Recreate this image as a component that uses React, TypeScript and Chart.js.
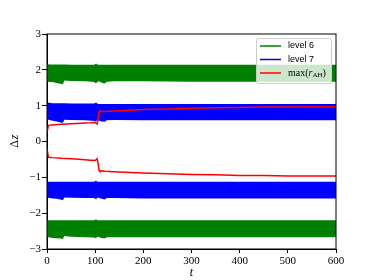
import React, { useEffect, useRef } from "react";
import { Chart, registerables } from "chart.js";

Chart.register(...registerables);

// Envelope time grid for oscillating bands
const tEnv = [0, 5, 12, 20, 28, 33, 36, 50, 80, 98, 102, 104, 108, 114, 120, 124, 140, 200, 300, 400, 500, 600];
const level6UpperTop = [2.16, 2.15, 2.15, 2.15, 2.15, 2.15, 2.15, 2.14, 2.14, 2.14, 2.18, 2.15, 2.14, 2.14, 2.14, 2.14, 2.14, 2.14, 2.14, 2.14, 2.14, 2.14];
const level6UpperBot = [1.68, 1.66, 1.66, 1.63, 1.61, 1.6, 1.7, 1.69, 1.68, 1.66, 1.62, 1.66, 1.68, 1.64, 1.62, 1.67, 1.68, 1.68, 1.67, 1.67, 1.67, 1.67];
const level7UpperTop = [1.09, 1.08, 1.07, 1.07, 1.07, 1.07, 1.07, 1.06, 1.06, 1.06, 1.09, 1.06, 1.05, 1.05, 1.05, 1.05, 1.05, 1.05, 1.05, 1.05, 1.05, 1.05];
const level7UpperBot = [0.62, 0.6, 0.58, 0.56, 0.53, 0.52, 0.61, 0.6, 0.59, 0.57, 0.55, 0.6, 0.58, 0.56, 0.55, 0.59, 0.6, 0.59, 0.59, 0.59, 0.59, 0.59];
const level7LowerTop = [-1.12, -1.12, -1.12, -1.12, -1.12, -1.12, -1.12, -1.12, -1.12, -1.12, -1.09, -1.12, -1.12, -1.12, -1.12, -1.12, -1.12, -1.12, -1.12, -1.12, -1.12, -1.12];
const level7LowerBot = [-1.56, -1.58, -1.59, -1.6, -1.62, -1.64, -1.56, -1.57, -1.58, -1.58, -1.62, -1.57, -1.58, -1.6, -1.62, -1.58, -1.58, -1.59, -1.59, -1.59, -1.59, -1.59];
const level6LowerTop = [-2.2, -2.2, -2.2, -2.2, -2.2, -2.2, -2.2, -2.2, -2.2, -2.2, -2.17, -2.2, -2.2, -2.2, -2.2, -2.2, -2.2, -2.2, -2.2, -2.2, -2.2, -2.2];
const level6LowerBot = [-2.66, -2.68, -2.69, -2.7, -2.71, -2.72, -2.64, -2.66, -2.67, -2.68, -2.71, -2.66, -2.67, -2.69, -2.71, -2.67, -2.67, -2.67, -2.67, -2.67, -2.67, -2.67];

// max(r_AH)
const tRed = [0, 3, 10, 30, 60, 90, 100, 104, 106, 108, 110, 114, 120, 150, 200, 250, 300, 350, 400, 450, 500, 600];
const rUpper = [0.25, 0.45, 0.46, 0.48, 0.5, 0.52, 0.53, 0.49, 0.6, 0.82, 0.86, 0.83, 0.84, 0.86, 0.89, 0.91, 0.93, 0.94, 0.95, 0.96, 0.96, 0.97];
const rLower = [-0.2, -0.44, -0.45, -0.47, -0.49, -0.52, -0.53, -0.48, -0.6, -0.8, -0.83, -0.82, -0.83, -0.85, -0.88, -0.9, -0.92, -0.93, -0.95, -0.95, -0.96, -0.96];

const xTicks = [0, 100, 200, 300, 400, 500, 600];
const yTicks = [-3, -2, -1, 0, 1, 2, 3];

const GREEN = "#008000";
const BLUE = "#0000ff";
const RED = "#ff0000";

const pts = (xs: number[], ys: number[]) => xs.map((x, i) => ({ x, y: ys[i] }));

const edge = (data: any, fill: any, color: string) => ({
  data,
  borderWidth: 0,
  borderColor: "rgba(0,0,0,0)",
  backgroundColor: color,
  pointRadius: 0,
  fill,
  tension: 0,
});

const framePlugin = {
  id: "frame",
  afterDraw(chart: any) {
    const { ctx, chartArea: a } = chart;
    ctx.save();
    ctx.strokeStyle = "#000";
    ctx.lineWidth = 1;
    ctx.strokeRect(a.left, a.top, a.right - a.left, a.bottom - a.top);

    // axis titles
    ctx.fillStyle = "#000";
    ctx.textAlign = "center";
    ctx.textBaseline = "middle";
    ctx.font = "italic 12px 'Liberation Serif'";
    ctx.fillText("t", (a.left + a.right) / 2, 273);

    ctx.save();
    ctx.translate(15, (a.top + a.bottom) / 2);
    ctx.rotate(-Math.PI / 2);
    ctx.font = "12px 'Liberation Serif'";
    const w1 = ctx.measureText("Δ").width;
    ctx.font = "italic 12px 'Liberation Serif'";
    const w2 = ctx.measureText("z").width;
    ctx.textAlign = "left";
    ctx.font = "12px 'Liberation Serif'";
    ctx.fillText("Δ", -(w1 + w2) / 2, 0);
    ctx.font = "italic 12px 'Liberation Serif'";
    ctx.fillText("z", -(w1 + w2) / 2 + w1 + 0.5, 0);
    ctx.restore();

    // legend
    const bx = 256.5, by = 38.5, bw = 75, bh = 45;
    ctx.beginPath();
    ctx.roundRect(bx, by, bw, bh, 2);
    ctx.fillStyle = "rgba(255,255,255,0.8)";
    ctx.fill();
    ctx.strokeStyle = "#cccccc";
    ctx.lineWidth = 1;
    ctx.stroke();

    const rows = [
      { y: 46, c: GREEN, label: "level 6" },
      { y: 59.5, c: BLUE, label: "level 7" },
      { y: 73, c: RED, label: "" },
    ];
    rows.forEach((r) => {
      ctx.beginPath();
      ctx.strokeStyle = r.c;
      ctx.lineWidth = 1.5;
      ctx.moveTo(260, r.y);
      ctx.lineTo(281, r.y);
      ctx.stroke();
      ctx.fillStyle = "#000";
      ctx.textAlign = "left";
      ctx.textBaseline = "middle";
      if (r.label) {
        ctx.font = "9px 'Liberation Sans'";
        ctx.fillText(r.label, 288, r.y);
      } else {
        let x = 288;
        ctx.font = "10px 'Liberation Serif'";
        ctx.fillText("max(", x, r.y);
        x += ctx.measureText("max(").width;
        ctx.font = "italic 10px 'Liberation Serif'";
        ctx.fillText("r", x, r.y);
        x += ctx.measureText("r").width;
        ctx.font = "7px 'Liberation Serif'";
        ctx.fillText("AH", x, r.y + 2.5);
        x += ctx.measureText("AH").width;
        ctx.font = "10px 'Liberation Serif'";
        ctx.fillText(")", x, r.y);
      }
    });
    ctx.restore();
  },
};

export default function App() {
  const ref = useRef<HTMLCanvasElement | null>(null);

  useEffect(() => {
    if (!ref.current) return;
    const chart = new Chart(ref.current, {
      type: "line",
      data: {
        datasets: [
          { data: pts(tRed, rUpper), borderColor: RED, borderWidth: 1.5, pointRadius: 0, fill: false, tension: 0 },
          { data: pts(tRed, rLower), borderColor: RED, borderWidth: 1.5, pointRadius: 0, fill: false, tension: 0 },
          edge(pts(tEnv, level7UpperTop), false, BLUE),
          edge(pts(tEnv, level7UpperBot), "-1", BLUE),
          edge(pts(tEnv, level7LowerTop), false, BLUE),
          edge(pts(tEnv, level7LowerBot), "-1", BLUE),
          edge(pts(tEnv, level6UpperTop), false, GREEN),
          edge(pts(tEnv, level6UpperBot), "-1", GREEN),
          edge(pts(tEnv, level6LowerTop), false, GREEN),
          edge(pts(tEnv, level6LowerBot), "-1", GREEN),
        ] as any,
      },
      options: {
        animation: false,
        responsive: false,
        layout: { padding: { left: 0, top: 34, right: 38, bottom: 0 } },
        plugins: { legend: { display: false }, tooltip: { enabled: false } },
        scales: {
          x: {
            type: "linear",
            min: 0,
            max: 600,
            afterFit: (s: any) => { s.height = 31; },
            afterBuildTicks: (s: any) => { s.ticks = xTicks.map((v) => ({ value: v })); },
            grid: { display: true, drawOnChartArea: false, drawTicks: true, tickLength: 4, color: "#000" },
            border: { display: true, color: "#000" },
            ticks: {
              padding: 2,
              color: "#000",
              maxRotation: 0,
              font: { family: "Liberation Serif", size: 11 },
              callback: (v: any) => String(v),
            },
          },
          y: {
            type: "linear",
            min: -3,
            max: 3,
            afterFit: (s: any) => { s.width = 47; },
            afterBuildTicks: (s: any) => { s.ticks = yTicks.map((v) => ({ value: v })); },
            grid: { display: true, drawOnChartArea: false, drawTicks: true, tickLength: 5, color: "#000" },
            border: { display: true, color: "#000" },
            ticks: {
              padding: 1,
              color: "#000",
              font: { family: "Liberation Serif", size: 11 },
              callback: (v: any) => String(v).replace("-", "\u2212"),
            },
          },
        },
      },
      plugins: [framePlugin],
    });
    return () => chart.destroy();
  }, []);

  return (
    <div style={{ position: "fixed", left: 0, top: 0, width: 374, height: 280, background: "#fff" }}>
      <canvas ref={ref} width={374} height={280} style={{ width: 374, height: 280 }} />
    </div>
  );
}
